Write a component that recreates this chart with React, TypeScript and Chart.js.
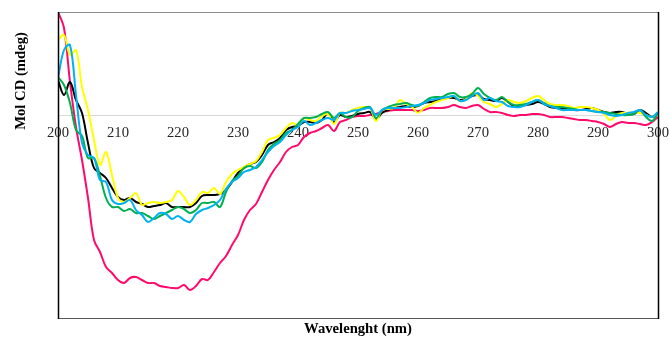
import { useEffect, useRef } from "react";
import { Chart, registerables } from "chart.js";

Chart.register(...registerables);

const wavelengths = [
  200, 201, 202, 203, 204, 205, 206, 207, 208, 209,
  210, 211, 212, 213, 214, 215, 216, 217, 218, 219,
  220, 221, 222, 223, 224, 225, 226, 227, 228, 229,
  230, 231, 232, 233, 234, 235, 236, 237, 238, 239,
  240, 241, 242, 243, 244, 245, 246, 247, 248, 249,
  250, 251, 252, 253, 254, 255, 256, 257, 258, 259,
  260, 261, 262, 263, 264, 265, 266, 267, 268, 269,
  270, 271, 272, 273, 274, 275, 276, 277, 278, 279,
  280, 281, 282, 283, 284, 285, 286, 287, 288, 289,
  290, 291, 292, 293, 294, 295, 296, 297, 298, 299,
  300,
];

const xTicks = [200, 210, 220, 230, 240, 250, 260, 270, 280, 290, 300];

const seriesPink = [
  10.3, 8.7, 3.3, -1.2, -4.5, -8.3, -12.5, -13.7, -15.2, -15.8,
  -16.5, -16.8, -16.3, -16.2, -16.5, -16.8, -16.8, -17.1, -17.2, -17.3,
  -17.3, -17.0, -17.5, -17.1, -16.4, -16.5, -15.7, -14.8, -14.1, -13.0,
  -12.0, -10.5, -9.5, -8.9, -7.7, -6.5, -5.5, -4.7, -3.7, -3.2,
  -3.0, -2.2, -1.8, -1.6, -1.3, -1.0, -1.6, -0.7, -0.5, -0.2,
  -0.1, -0.1, 0.0, 0.1, 0.3, 0.4, 0.5, 0.5, 0.5, 0.5,
  0.4, 0.5, 0.7, 0.7, 0.7, 0.8, 1.0, 0.8, 0.7, 0.9,
  1.0, 0.6, 0.3, 0.3, 0.2, 0.0, -0.1, 0.0, 0.0, 0.1,
  0.1, 0.0, -0.2, -0.2, -0.2, -0.3, -0.4, -0.5, -0.5, -0.6,
  -0.7, -0.9, -1.2, -0.9, -0.7, -0.8, -0.8, -0.9, -1.0, -0.7,
  -0.2,
];

const seriesBlack = [
  3.5, 2.0, 3.3, 1.5, 0.2, -2.8, -5.3, -5.8, -6.3, -7.3,
  -8.2, -8.5, -8.3, -8.7, -8.9, -9.2, -9.1, -9.0, -8.8, -9.2,
  -9.2, -9.2, -9.2, -8.8, -8.1, -8.0, -8.0, -7.9, -7.5, -6.7,
  -5.8, -5.3, -4.9, -4.7, -4.0, -3.0, -2.7, -2.3, -1.5, -1.2,
  -1.1, -0.7, -0.7, -0.8, -0.5, 0.2, -0.7, 0.0, -0.2, -0.1,
  0.1, 0.2, 0.3, -0.4, 0.2, 0.5, 0.7, 0.8, 0.9, 0.8,
  0.9, 1.2, 1.3, 1.4, 1.6, 1.7, 1.7, 1.5, 1.6, 1.9,
  2.0, 1.6, 1.5, 1.4, 1.7, 1.3, 0.9, 0.9, 1.0, 1.1,
  1.3, 1.1, 0.8, 0.7, 0.7, 0.6, 0.5, 0.5, 0.6, 0.7,
  0.5, 0.3, 0.2, 0.3, 0.3, 0.1, 0.1, 0.5, 0.2, -0.2,
  0.2,
];

const seriesYellow = [
  7.5, 8.0, 6.0, 6.5, 2.8, 0.5, -2.5, -5.0, -3.7, -6.0,
  -8.3, -8.7, -8.3, -7.8, -9.0, -8.8, -8.7, -8.8, -8.7, -8.5,
  -7.6, -8.2, -9.0, -8.5, -7.7, -7.8, -7.3, -7.9, -6.7, -5.9,
  -5.5, -5.2, -4.9, -4.6, -3.7, -2.5, -2.3, -2.0, -1.3, -0.8,
  -1.0, -0.3, -0.5, -0.6, -0.1, 0.1, -0.9, 0.2, 0.2, 0.5,
  0.7, 0.8, 0.7, -0.6, 0.5, 0.6, 0.7, 1.5, 1.1, 0.8,
  0.2, 0.7, 1.0, 1.3, 1.5, 1.7, 1.9, 1.4, 1.6, 2.2,
  1.9, 1.3, 1.1, 0.8, 1.1, 1.5, 1.3, 1.2, 1.4, 1.7,
  1.9, 1.5, 1.1, 1.0, 1.0, 0.9, 0.7, 0.8, 0.8, 0.7,
  0.5, 0.1, -0.5, -0.1, 0.2, 0.2, 0.3, 0.2, 0.0, -0.2,
  0.2,
];

const seriesGreen = [
  3.8, 3.0, 1.2, -1.5, -2.1, -4.3, -4.3, -6.1, -8.3, -9.2,
  -9.2, -9.6, -9.4, -9.8, -9.8, -10.1, -10.4, -10.1, -9.8, -9.5,
  -9.2, -9.4, -9.8, -9.5, -8.8, -8.8, -8.7, -9.2, -7.7, -6.6,
  -6.1, -5.3, -5.1, -5.3, -4.7, -3.5, -2.9, -2.5, -1.8, -1.5,
  -0.9, -0.3, -0.3, -0.2, 0.1, 0.3, -0.3, 0.2, -0.2, -0.2,
  0.4, 0.7, 0.8, -0.3, 0.5, 0.8, 1.0, 1.1, 1.2, 1.0,
  0.9, 1.3, 1.7, 1.8, 1.8, 2.1, 2.2, 1.8, 1.8, 2.1,
  2.7, 2.1, 1.7, 1.5, 1.8, 1.3, 1.0, 1.0, 1.1, 1.3,
  1.5, 1.2, 0.9, 0.8, 0.8, 0.7, 0.6, 0.5, 0.5, 0.4,
  0.3, 0.3, 0.2, 0.1, 0.0, 0.0, 0.1, 0.5, -0.2, -0.6,
  0.2,
];

const seriesCyan = [
  3.7, 6.5, 7.0, 2.0, -2.8, -4.0, -4.3, -6.5, -6.7, -8.5,
  -8.9, -8.8, -8.5, -9.5, -10.0, -10.7, -10.3, -9.8, -9.9, -10.4,
  -10.1, -10.5, -10.7, -9.9, -9.5, -9.3, -9.0, -8.5, -7.4, -6.7,
  -6.3, -5.7, -5.5, -5.2, -4.5, -3.7, -3.1, -2.7, -2.0, -1.5,
  -1.2, -0.6, -1.0, -0.8, -0.5, -0.3, -0.5, 0.2, 0.2, 0.4,
  0.5, 0.6, 0.7, 0.0, 0.5, 0.7, 0.7, 0.7, 0.8, 0.9,
  1.0, 1.2, 1.5, 1.6, 1.7, 1.8, 1.9, 1.4, 1.5, 1.9,
  2.2, 1.5, 1.7, 1.4, 1.3, 0.9, 0.8, 0.8, 1.0, 1.3,
  1.5, 1.1, 0.9, 0.7, 0.5, 0.5, 0.5, 0.5, 0.5, 0.4,
  0.3, 0.2, 0.0, -0.1, 0.0, 0.2, 0.3, 0.5, 0.0, -0.2,
  0.3,
];

const yMin = -20.3;
const yMax = 10.3;

const SERIF = "'Liberation Serif', 'Times New Roman', 'DejaVu Serif', serif";

export default function App() {
  const ref = useRef<HTMLCanvasElement>(null);

  useEffect(() => {
    if (!ref.current) return;
    const toPts = (arr: number[]) => wavelengths.map((x, i) => ({ x, y: arr[i] }));

    const framePlugin = {
      id: "frame",
      beforeDatasetsDraw(chart: any) {
        const { ctx, chartArea: a, scales } = chart;
        const y0 = Math.round(scales.y.getPixelForValue(0)) + 0.5;
        ctx.save();
        ctx.strokeStyle = "#D9D9D9";
        ctx.lineWidth = 1;
        ctx.beginPath();
        ctx.moveTo(a.left, y0);
        ctx.lineTo(a.right, y0);
        ctx.stroke();
        ctx.restore();
      },
      afterDraw(chart: any) {
        const { ctx, chartArea: a } = chart;
        ctx.save();
        ctx.lineWidth = 1;
        // top
        ctx.strokeStyle = "#8C8C8C";
        ctx.beginPath();
        ctx.moveTo(a.left, a.top + 0.5);
        ctx.lineTo(a.right, a.top + 0.5);
        ctx.stroke();
        // bottom
        ctx.strokeStyle = "#595959";
        ctx.beginPath();
        ctx.moveTo(a.left, a.bottom + 0.5);
        ctx.lineTo(a.right, a.bottom + 0.5);
        ctx.stroke();
        // left & right
        ctx.strokeStyle = "#000000";
        ctx.lineWidth = 1.5;
        ctx.beginPath();
        ctx.moveTo(a.left + 0.5, a.top);
        ctx.lineTo(a.left + 0.5, a.bottom + 1);
        ctx.moveTo(a.right + 0.5, a.top);
        ctx.lineTo(a.right + 0.5, a.bottom + 1);
        ctx.stroke();

        // titles
        ctx.fillStyle = "#000000";
        ctx.font = `bold 14.67px ${SERIF}`;
        ctx.textAlign = "center";
        ctx.textBaseline = "alphabetic";
        ctx.fillText("Wavelenght (nm)", (a.left + a.right) / 2, 333);
        ctx.translate(25, 81);
        ctx.rotate(-Math.PI / 2);
        ctx.fillText("Mol CD (mdeg)", 0, 0);
        ctx.restore();
      },
    };

    const common = {
      pointRadius: 0,
      borderWidth: 2,
      tension: 0.35,
      fill: false,
    };

    const chart = new Chart(ref.current, {
      type: "line",
      data: {
        datasets: [
          { ...common, label: "Cyan", data: toPts(seriesCyan), borderColor: "#00B0F0" },
          { ...common, label: "Green", data: toPts(seriesGreen), borderColor: "#00B050" },
          { ...common, label: "Yellow", data: toPts(seriesYellow), borderColor: "#FFFF00" },
          { ...common, label: "Black", data: toPts(seriesBlack), borderColor: "#000000" },
          { ...common, label: "Pink", data: toPts(seriesPink), borderColor: "#FF0A6C" },
        ],
      },
      options: {
        animation: false,
        responsive: false,
        maintainAspectRatio: false,
        layout: { padding: { left: 58, right: 11, top: 12, bottom: 20 } },
        plugins: {
          legend: { display: false },
          tooltip: { enabled: false },
        },
        scales: {
          x: {
            type: "linear",
            min: 200,
            max: 300,
            position: { y: 0 } as any,
            grid: { display: false, drawTicks: false },
            border: { display: false },
            ticks: {
              font: { family: SERIF, size: 14.67 },
              color: "#262626",
              padding: 9,
              maxRotation: 0,
            },
            afterBuildTicks: (s: any) => {
              s.ticks = xTicks.map((v) => ({ value: v }));
            },
            afterFit: (s: any) => {
              s.height = 0;
              s.paddingLeft = 0;
              s.paddingRight = 0;
            },
          },
          y: {
            display: false,
            min: yMin,
            max: yMax,
          },
        },
      },
      plugins: [framePlugin],
    });
    return () => chart.destroy();
  }, []);

  return (
    <canvas
      ref={ref}
      width={669}
      height={338}
      style={{ position: "absolute", left: 0, top: 0, width: 669, height: 338 }}
    />
  );
}
